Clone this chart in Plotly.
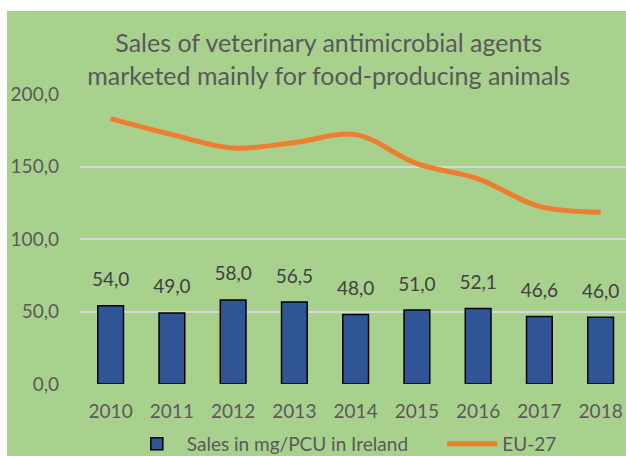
import plotly.graph_objects as go

years = ["2010", "2011", "2012", "2013", "2014", "2015", "2016", "2017", "2018"]
ireland = [54.0, 49.0, 58.0, 56.5, 48.0, 51.0, 52.1, 46.6, 46.0]
eu27 = [183.0, 172.0, 162.7, 166.5, 172.0, 152.0, 141.5, 122.5, 118.5]

green = "#A9D18E"
grey_text = "#595959"
font_name = "Lato"

fig = go.Figure()

# Ireland bars
fig.add_trace(
    go.Bar(
        x=years,
        y=ireland,
        name="Sales in mg/PCU in Ireland" + "\u00a0" * 6,
        width=0.42,
        marker=dict(
            color="#2F5597",
            line=dict(color="black", width=1.5)
        )
    )
)

# EU-27 line
fig.add_trace(
    go.Scatter(
        x=years,
        y=eu27,
        mode="lines",
        name="EU-27",
        line=dict(color="#ED7D31", width=5, shape="spline", smoothing=1)
    )
)

# data labels above the bars (invisible markers give the gap)
fig.add_trace(
    go.Scatter(
        x=years,
        y=ireland,
        mode="markers+text",
        marker=dict(size=22, opacity=0),
        texttemplate="%{y:.1f}",
        textposition="top center",
        textfont=dict(size=19, color="#404040", family=font_name),
        showlegend=False,
        hoverinfo="skip",
        cliponaxis=False
    )
)

# green chart area with a thin white border top/left
fig.add_shape(
    type="rect",
    xref="paper",
    yref="paper",
    x0=(7 - 80) / 546,
    x1=1.05,
    y0=-0.3,
    y1=(384 - 11) / 290,
    fillcolor=green,
    line=dict(width=0),
    layer="below"
)

fig.update_layout(
    width=626,
    height=456,
    margin=dict(l=80, r=0, t=94, b=72),
    paper_bgcolor="white",
    plot_bgcolor="rgba(0,0,0,0)",
    separators=",.",
    font=dict(family=font_name, color=grey_text, size=19),
    title=dict(
        text="Sales of veterinary antimicrobial agents<br>marketed mainly for food-producing animals",
        x=0.525,
        xref="container",
        xanchor="center",
        y=1 - 52 / 456,
        yref="container",
        yanchor="middle",
        font=dict(size=25, color=grey_text, family=font_name)
    ),
    showlegend=True,
    legend=dict(
        orientation="h",
        xref="container",
        x=0.55,
        xanchor="center",
        yref="container",
        y=1 - 444 / 456,
        yanchor="middle",
        bgcolor="rgba(0,0,0,0)",
        font=dict(size=19, color=grey_text),
        itemwidth=50
    ),
    bargap=0.58
)

fig.update_xaxes(
    range=[-0.5, 8.414],
    showgrid=False,
    showline=False,
    ticks="",
    ticklabelstandoff=14,
    tickfont=dict(size=19, color=grey_text)
)

fig.update_yaxes(
    range=[0, 200],
    dtick=50,
    tickformat=".1f",
    showgrid=True,
    gridcolor="#D9D9D9",
    gridwidth=2,
    zeroline=False,
    showline=False,
    ticks="",
    ticklabelstandoff=20,
    tickfont=dict(size=19, color=grey_text)
)

fig.write_html(
    "out.html",
    config={"displayModeBar": False},
    post_script="document.body.style.margin='0';document.body.style.overflow='hidden';"
)
